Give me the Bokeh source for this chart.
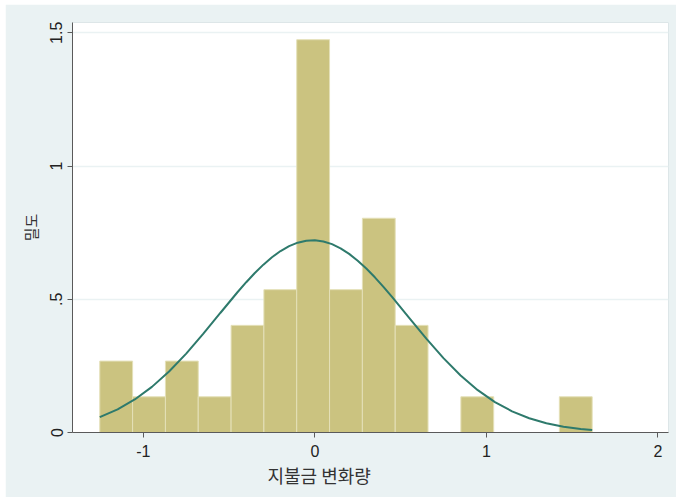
from bokeh.plotting import figure
from bokeh.models import Range1d, FixedTicker, ColumnDataSource, Title
from bokeh.embed import file_html
from bokeh.resources import INLINE

# ---- data ----
bin_edges = [-1.254, -1.0626, -0.8712, -0.6798, -0.4884, -0.297, -0.1056,
             0.0858, 0.2772, 0.4686, 0.660, 0.8514, 1.0428, 1.2342, 1.4256, 1.617]
density = [0.268, 0.134, 0.268, 0.134, 0.402, 0.536, 1.474, 0.536,
           0.804, 0.402, 0.0, 0.134, 0.0, 0.0, 0.134]

curve_x = [-1.254, -1.15, -1.05, -0.95, -0.85, -0.75, -0.65, -0.55, -0.45, -0.4,
           -0.35, -0.3, -0.25, -0.2, -0.15, -0.1, -0.05, 0.0, 0.05, 0.1, 0.15,
           0.2, 0.25, 0.3, 0.35, 0.4, 0.45, 0.55, 0.65, 0.75, 0.85, 0.95, 1.05,
           1.15, 1.25, 1.35, 1.45, 1.55, 1.617]
curve_y = [0.0579, 0.0869, 0.1240, 0.1712, 0.2288, 0.2961, 0.3708, 0.4494, 0.5272,
           0.5640, 0.5985, 0.6299, 0.6576, 0.6809, 0.6993, 0.7123, 0.7197, 0.7212,
           0.7169, 0.7068, 0.6911, 0.6703, 0.6448, 0.6153, 0.5823, 0.5466, 0.5089,
           0.4305, 0.3524, 0.2792, 0.2140, 0.1589, 0.1141, 0.0794, 0.0534, 0.0348,
           0.0219, 0.0134, 0.0094]

x_ticks = [-1, 0, 1, 2]
x_tick_labels = ["-1", "0", "1", "2"]
y_ticks = [0, 0.5, 1, 1.5]
y_tick_labels = ["0", ".5", "1", "1.5"]
x_title = "지불금 변화량"
y_title = "밀도"

BG = "#EAF2F3"

p = figure(width=671, height=493, output_backend="svg", toolbar_location=None,
           x_range=Range1d(-1.413, 2.062), y_range=Range1d(0, 1.5385),
           min_border_left=67, min_border_right=8, min_border_top=18,
           min_border_bottom=65, margin=(4, 0, 0, 5))
p.border_fill_color = BG
p.background_fill_color = "white"
p.outline_line_color = "#DDE6E8"

# bars (skip empty bins)
left, right, top = [], [], []
for i, d in enumerate(density):
    if d > 0:
        left.append(bin_edges[i]); right.append(bin_edges[i + 1]); top.append(d)
src = ColumnDataSource(dict(left=left, right=right, top=top, bottom=[0] * len(top)))
p.quad(left="left", right="right", top="top", bottom="bottom", source=src,
       fill_color="#CBC380", line_color="#E4E0B8", line_width=1)

p.line(curve_x, curve_y, line_color="#2E7A6C", line_width=2)

# grid
p.xgrid.visible = False
p.ygrid.ticker = FixedTicker(ticks=y_ticks)
p.ygrid.grid_line_color = BG
p.ygrid.grid_line_width = 1.5

# axes
for ax in (p.xaxis[0], p.yaxis[0]):
    ax.axis_line_color = "#5A5A5A"
    ax.major_tick_line_color = "#5A5A5A"
    ax.major_tick_in = 0
    ax.major_tick_out = 5
    ax.minor_tick_line_color = None
    ax.major_label_text_font = "Liberation Sans"
    ax.major_label_text_font_size = "16px"
    ax.major_label_text_color = "#222222"

p.xaxis.ticker = FixedTicker(ticks=x_ticks)
p.xaxis.major_label_overrides = {t: s for t, s in zip(x_ticks, x_tick_labels)}
p.xaxis.major_label_standoff = 7

p.yaxis.ticker = FixedTicker(ticks=y_ticks)
p.yaxis.major_label_overrides = {t: s for t, s in zip(y_ticks, y_tick_labels)}
p.yaxis.major_label_orientation = "vertical"
p.yaxis.major_label_standoff = 5
p.yaxis.axis_label = y_title
p.yaxis.axis_label_text_font = "Noto Sans CJK KR"
p.yaxis.axis_label_text_font_style = "normal"
p.yaxis.axis_label_text_font_size = "15px"
p.yaxis.axis_label_text_color = "#333333"
p.yaxis.axis_label_standoff = 7

p.add_layout(Title(text=x_title, align="left", offset=195, standoff=0,
                   text_font="Noto Sans CJK KR", text_font_style="normal",
                   text_font_size="18px", text_color="#333333"), "below")

open("out.html", "w").write(file_html(p, INLINE))
